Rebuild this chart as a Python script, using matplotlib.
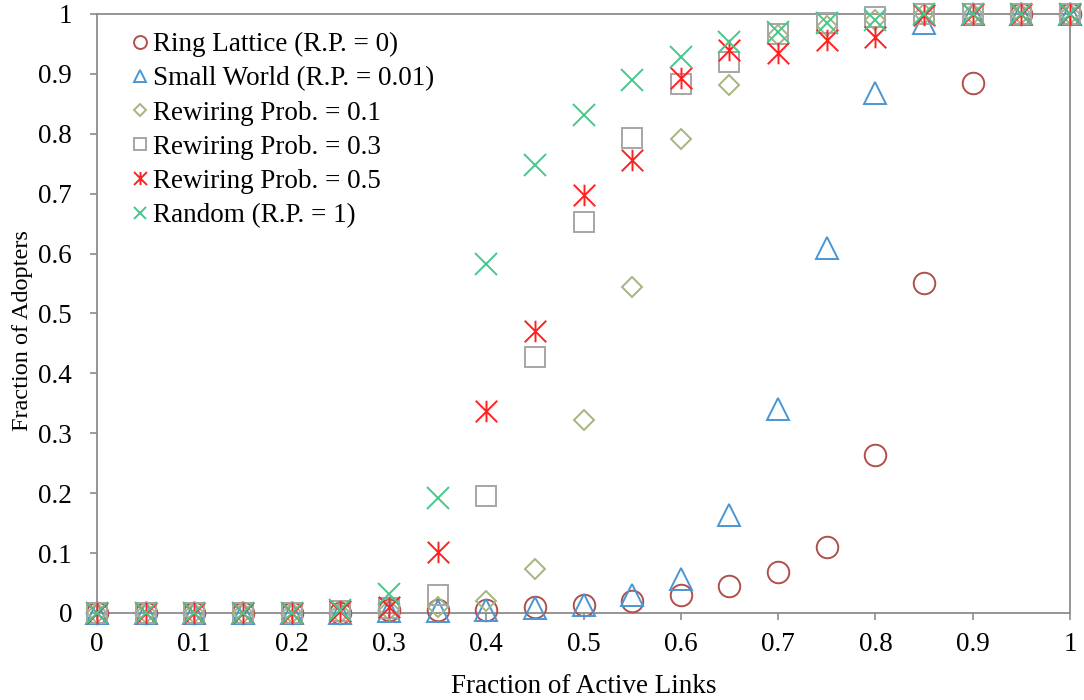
import numpy as np
import matplotlib.pyplot as plt
from matplotlib.path import Path

plt.rcParams['font.family'] = ['Liberation Serif', 'DejaVu Serif']

# fraction of active links
x = [0, 0.05, 0.1, 0.15, 0.2, 0.25, 0.3, 0.35, 0.4, 0.45, 0.5,
     0.55, 0.6, 0.65, 0.7, 0.75, 0.8, 0.85, 0.9, 0.95, 1.0]

ring = [0, 0, 0, 0, 0, 0, 0.005, 0.005, 0.005, 0.01, 0.013,
        0.02, 0.03, 0.045, 0.068, 0.11, 0.263, 0.551, 0.884, 1.0, 1.0]
small_world = [0, 0, 0, 0, 0, 0, 0.003, 0.003, 0.005, 0.008, 0.014,
               0.03, 0.057, 0.163, 0.34, 0.609, 0.868, 0.985, 1.0, 1.0, 1.0]
rp01 = [0, 0, 0, 0, 0, 0, 0.005, 0.01, 0.02, 0.073, 0.323,
        0.545, 0.792, 0.882, 0.965, 0.98, 0.99, 1.0, 1.0, 1.0, 1.0]
rp03 = [0, 0, 0, 0, 0, 0.003, 0.008, 0.03, 0.195, 0.427, 0.652,
        0.793, 0.883, 0.92, 0.967, 0.985, 0.995, 1.0, 1.0, 1.0, 1.0]
rp05 = [0, 0, 0, 0, 0, 0.003, 0.01, 0.102, 0.338, 0.47, 0.697,
        0.757, 0.893, 0.94, 0.935, 0.957, 0.962, 0.998, 1.0, 1.0, 1.0]
random_net = [0, 0, 0, 0, 0, 0.005, 0.032, 0.192, 0.582, 0.748, 0.832,
              0.89, 0.928, 0.953, 0.97, 0.985, 0.99, 1.0, 1.0, 1.0, 1.0]

labels = ['Ring Lattice (R.P. = 0)', 'Small World (R.P. = 0.01)',
          'Rewiring Prob. = 0.1', 'Rewiring Prob. = 0.3',
          'Rewiring Prob. = 0.5', 'Random (R.P. = 1)']

# excel-style star: an x with a vertical bar through it
star = Path([(-1, -1), (1, 1), (-1, 1), (1, -1), (0, -1), (0, 1)],
            [Path.MOVETO, Path.LINETO, Path.MOVETO, Path.LINETO,
             Path.MOVETO, Path.LINETO])

series = [
    (ring, 'o', 15.5, '#B0504D'),
    (small_world, '^', 15.5, '#4A96D3'),
    (rp01, 'D', 10.5, '#A3B67F'),
    (rp03, 's', 15.0, '#A6A6A6'),
    (rp05, star, 15.5, '#FF2020'),
    (random_net, 'x', 15.5, '#45C88A'),
]

fig = plt.figure(figsize=(10.84, 7), dpi=100)
ax = fig.add_axes([97 / 1084, 1 - 613 / 700, 973 / 1084, 599 / 700])

for (y, m, ms, c), lab in zip(series, labels):
    ax.plot(x, y, linestyle='none', marker=m, markersize=ms,
            markerfacecolor='none', markeredgecolor=c, markeredgewidth=1.4,
            label=lab, clip_on=False, zorder=3)

ax.set_xlim(0, 1)
ax.set_ylim(0, 1)
ticks = np.round(np.arange(0, 1.01, 0.1), 1)
tick_labels = ['%g' % t for t in ticks]
ax.set_xticks(ticks)
ax.set_xticklabels(tick_labels)
ax.set_yticks(ticks)
ax.set_yticklabels(tick_labels)
ax.tick_params(axis='both', direction='out', length=5, width=1.2,
               color='#8C8C8C', labelsize=19.5, labelcolor='black')
ax.tick_params(axis='y', pad=13)
ax.tick_params(axis='x', pad=9)
for s in ax.spines.values():
    s.set_color('#8C8C8C')
    s.set_linewidth(1.3)

ax.set_xlabel('Fraction of Active Links', fontsize=19.5, labelpad=12)
ax.set_ylabel('Fraction of Adopters', fontsize=17.5, va='center')
ax.yaxis.set_label_coords(-0.077, 0.471)

ax.legend(loc='upper left', bbox_to_anchor=(0.037, 0.97), frameon=False,
          fontsize=19.5, markerscale=0.6, handlelength=0.55, handletextpad=0.2,
          labelspacing=0.34, borderpad=0, borderaxespad=0)

fig.savefig('out.png', dpi=100)
